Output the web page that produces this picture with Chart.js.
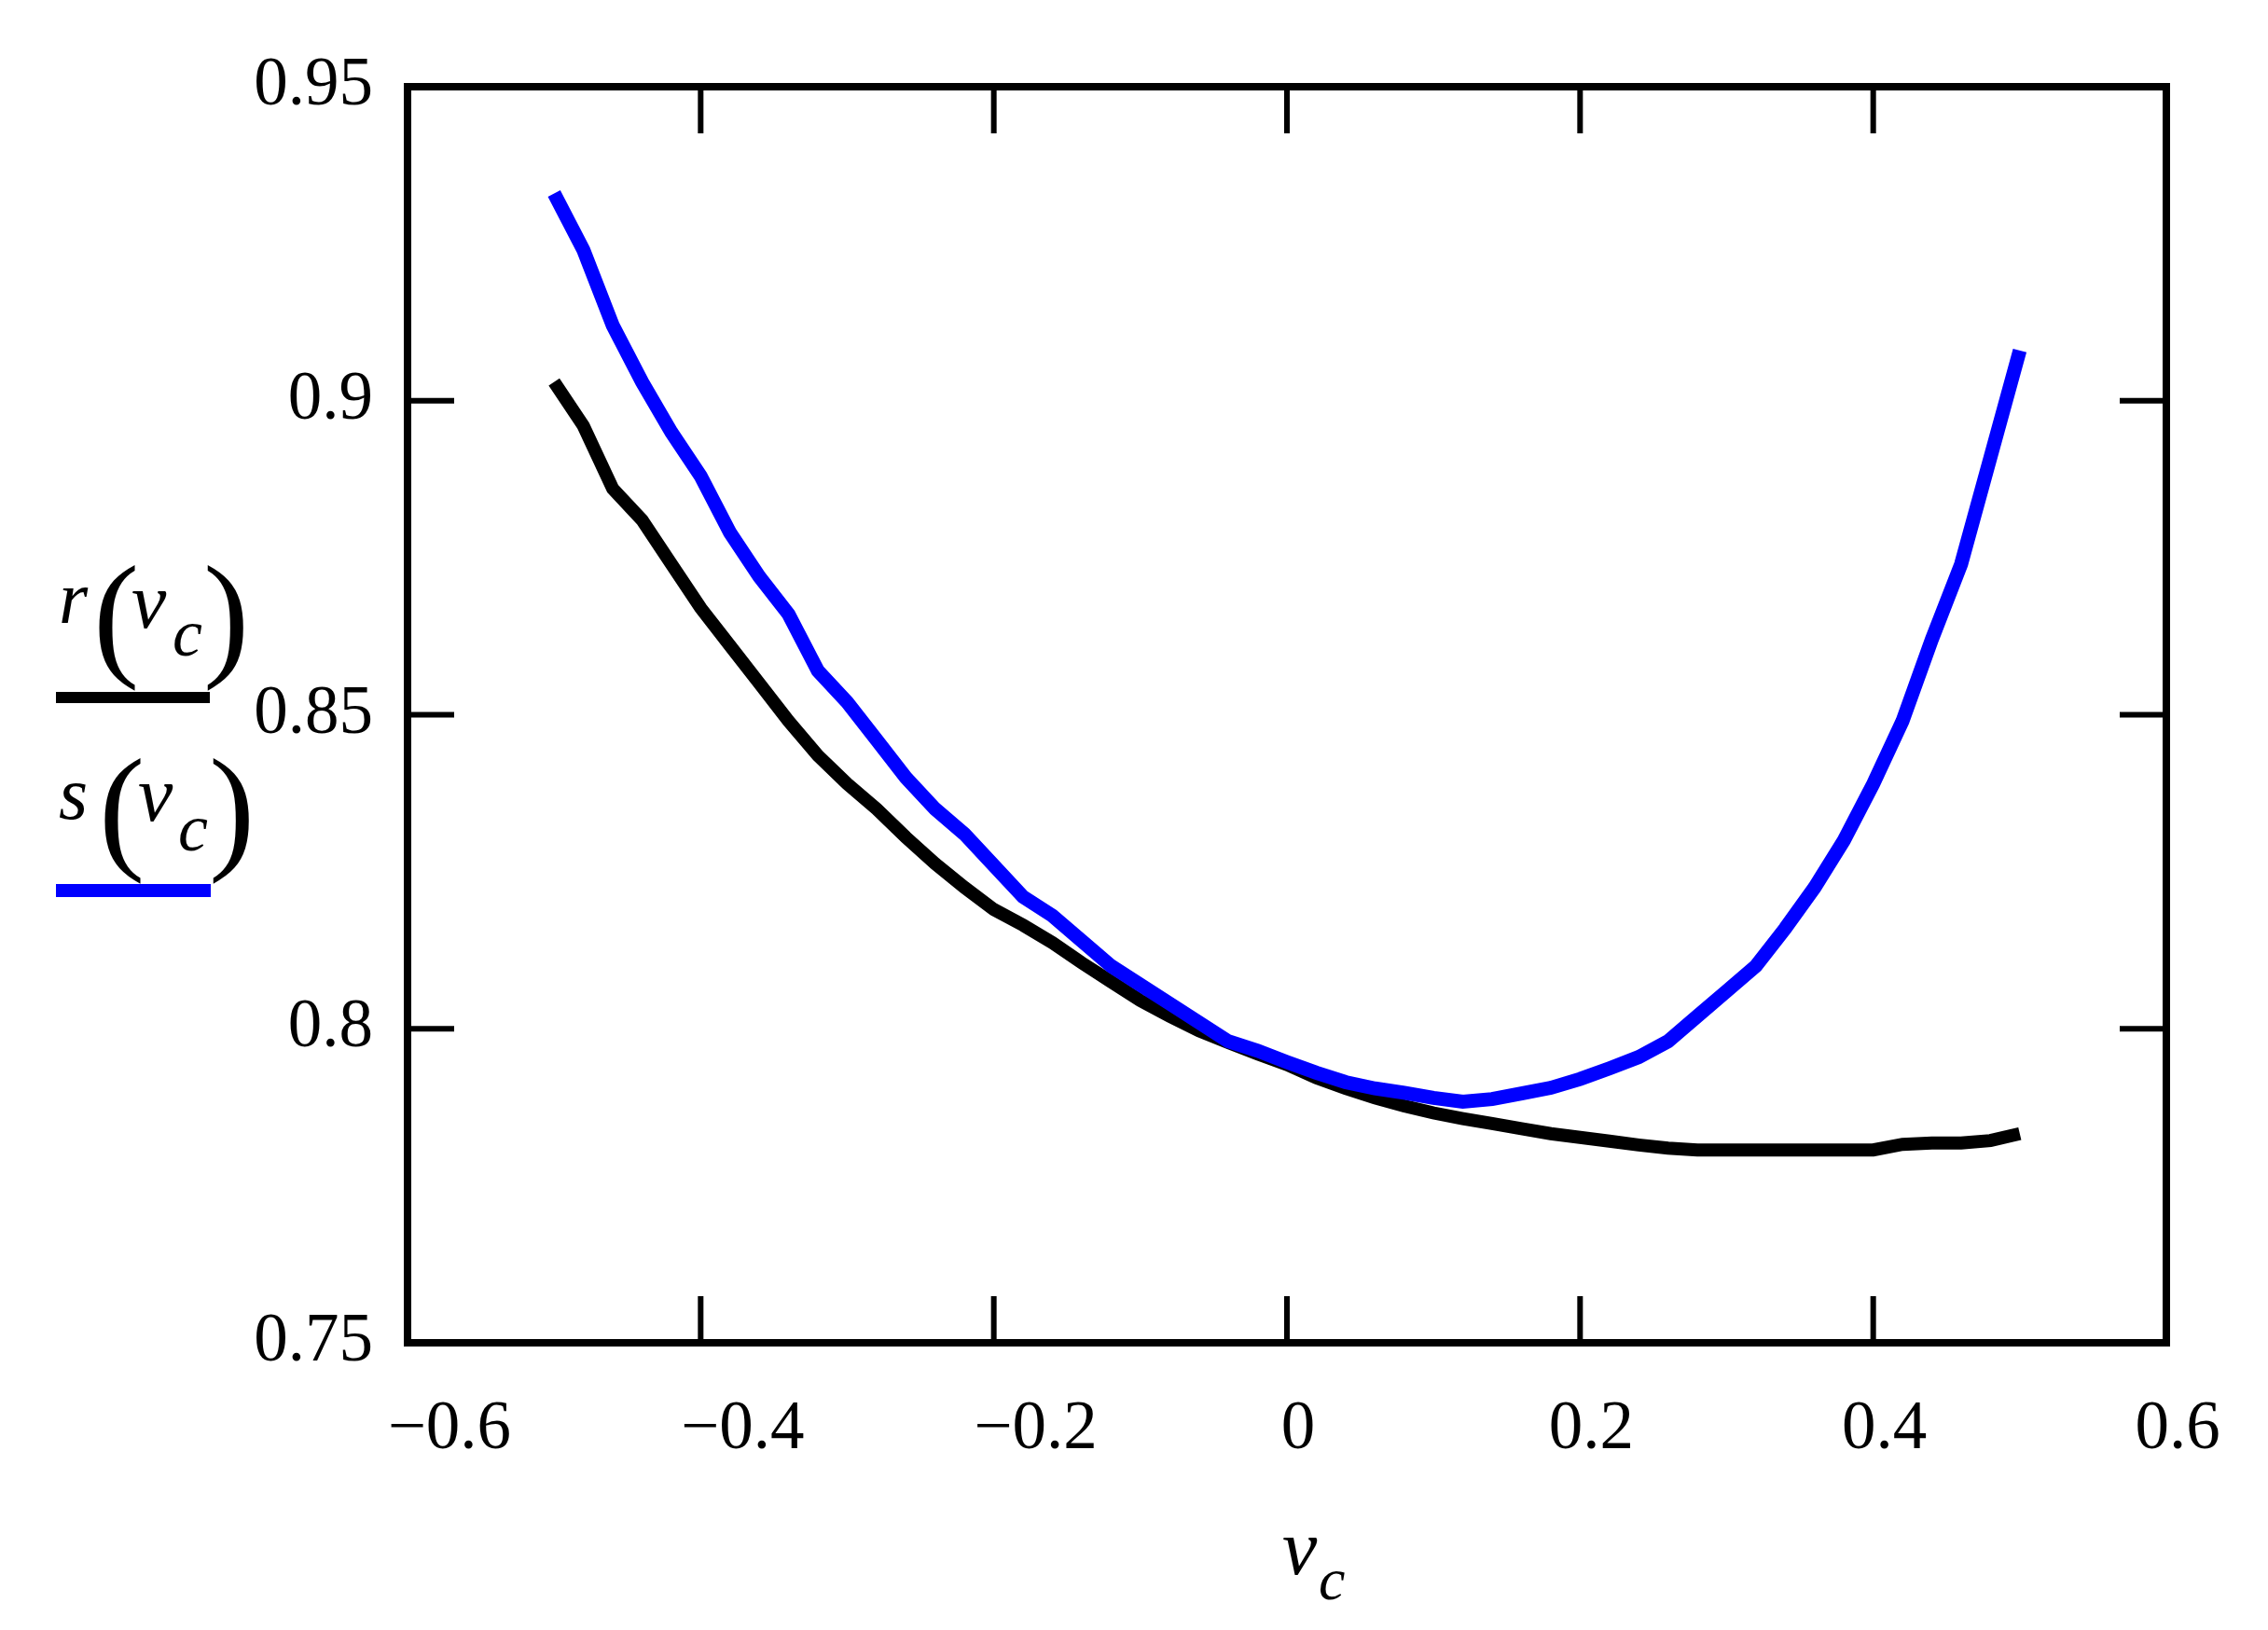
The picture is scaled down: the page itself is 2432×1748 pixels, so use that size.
<!DOCTYPE html>
<html>
<head>
<meta charset="utf-8">
<script src="https://cdn.jsdelivr.net/npm/chart.js@4.4.1/dist/chart.umd.min.js"></script>
<style>
  html, body { margin: 0; padding: 0; background: #ffffff; }
  #wrap { width: 2432px; height: 1748px; }
  canvas { display: block; }
</style>
</head>
<body>
<div id="wrap"><canvas id="c" width="2432" height="1748"></canvas></div>
<script>
// ---- data ----
const nuC = [-0.50,-0.48,-0.46,-0.44,-0.42,-0.40,-0.38,-0.36,-0.34,-0.32,-0.30,-0.28,-0.26,-0.24,-0.22,-0.20,-0.18,-0.16,-0.14,-0.12,-0.10,-0.08,-0.06,-0.04,-0.02,0.00,0.02,0.04,0.06,0.08,0.10,0.12,0.14,0.16,0.18,0.20,0.22,0.24,0.26,0.28,0.30,0.32,0.34,0.36,0.38,0.40,0.42,0.44,0.46,0.48,0.50];
const rValues = [0.903,0.896,0.886,0.881,0.874,0.867,0.861,0.855,0.849,0.8435,0.839,0.835,0.8305,0.8263,0.8225,0.819,0.8165,0.8137,0.8105,0.8075,0.8045,0.802,0.7997,0.7978,0.796,0.7943,0.7922,0.7905,0.789,0.7877,0.7866,0.7857,0.7849,0.7841,0.7833,0.7827,0.7821,0.7815,0.781,0.7807,0.7807,0.7807,0.7807,0.7807,0.7807,0.7807,0.7816,0.7818,0.7818,0.7822,0.7833];
const sValues = [0.933,0.924,0.912,0.903,0.895,0.888,0.879,0.872,0.866,0.857,0.852,0.846,0.840,0.835,0.831,0.826,0.821,0.818,0.814,0.810,0.807,0.804,0.801,0.798,0.7965,0.7947,0.793,0.7915,0.7905,0.7898,0.789,0.7884,0.7888,0.7897,0.7906,0.792,0.7937,0.7955,0.798,0.802,0.806,0.810,0.816,0.8225,0.830,0.839,0.849,0.862,0.874,0.891,0.908];
const xTickValues = [-0.6,-0.4,-0.2,0,0.2,0.4,0.6];
const xTickLabels = ['\u22120.6','\u22120.4','\u22120.2','0','0.2','0.4','0.6'];
const yTickValues = [0.75,0.80,0.85,0.90,0.95];
const yTickLabels = ['0.75','0.8','0.85','0.9','0.95'];

const SERIF = '"Liberation Serif", "Times New Roman", serif';

const framePlugin = {
  id: 'frameAndText',
  afterDraw(chart) {
    const ctx = chart.ctx;
    const a = chart.chartArea;
    const xs = chart.scales.x, ys = chart.scales.y;
    ctx.save();
    ctx.strokeStyle = '#000';
    // frame
    ctx.lineWidth = 8;
    ctx.strokeRect(a.left, a.top, a.right - a.left, a.bottom - a.top);
    // inward ticks on all four sides
    ctx.lineWidth = 6;
    const L = 50;
    ctx.beginPath();
    xTickValues.forEach(v => {
      const px = xs.getPixelForValue(v);
      ctx.moveTo(px, a.bottom); ctx.lineTo(px, a.bottom - L);
      ctx.moveTo(px, a.top); ctx.lineTo(px, a.top + L);
    });
    yTickValues.forEach(v => {
      const py = ys.getPixelForValue(v);
      ctx.moveTo(a.left, py); ctx.lineTo(a.left + L, py);
      ctx.moveTo(a.right, py); ctx.lineTo(a.right - L, py);
    });
    ctx.stroke();

    // text helpers
    ctx.fillStyle = '#000';
    ctx.textAlign = 'left';
    ctx.textBaseline = 'alphabetic';
    const it = (t, x, y, s) => { ctx.font = 'italic ' + s + 'px ' + SERIF; ctx.fillText(t, x, y); };
    const up = (t, x, y, s) => { ctx.font = s + 'px ' + SERIF; ctx.fillText(t, x, y); };

    // legend-like y-axis labels
    it('r', 63, 668, 80);
    up('(', 100, 709, 148);
    it('\u03BD', 141, 673, 84);
    it('c', 185, 703, 72);
    up(')', 218, 709, 148);
    ctx.fillStyle = '#000';
    ctx.fillRect(60, 742, 165, 12);

    it('s', 63, 878, 80);
    up('(', 106, 916, 148);
    it('\u03BD', 148, 880, 84);
    it('c', 191, 912, 72);
    up(')', 224, 916, 148);
    ctx.fillStyle = '#0000ff';
    ctx.fillRect(60, 948, 166, 14);

    // x-axis title
    ctx.fillStyle = '#000';
    it('\u03BD', 1375, 1688, 84);
    it('c', 1414, 1715, 64);
    ctx.restore();
  }
};

new Chart(document.getElementById('c'), {
  type: 'line',
  data: {
    datasets: [
      {
        label: 's(\u03BDc)',
        data: nuC.map((x, i) => ({ x: x, y: sValues[i] })),
        borderColor: '#0000ff',
        borderWidth: 15,
        pointRadius: 0,
        tension: 0,
        fill: false,
        order: 0
      },
      {
        label: 'r(\u03BDc)',
        data: nuC.map((x, i) => ({ x: x, y: rValues[i] })),
        borderColor: '#000000',
        borderWidth: 14,
        pointRadius: 0,
        tension: 0,
        fill: false,
        order: 1
      }
    ]
  },
  options: {
    responsive: false,
    animation: false,
    devicePixelRatio: 1,
    layout: { padding: { left: 0, right: 109, top: 93, bottom: 0 } },
    plugins: { legend: { display: false }, tooltip: { enabled: false }, title: { display: false } },
    scales: {
      x: {
        type: 'linear',
        min: -0.6, max: 0.6,
        afterFit: s => { s.height = 308; },
        afterBuildTicks: s => { s.ticks = xTickValues.map(v => ({ value: v })); },
        grid: { display: false, drawTicks: false },
        border: { display: false },
        ticks: {
          autoSkip: false,
          maxRotation: 0,
          padding: 50,
          labelOffset: 12,
          color: '#000',
          font: { family: SERIF, size: 73 },
          callback: (v, i) => (xTickValues[i] < 0 ? '\u2002\u2009\u2009' : '') + xTickLabels[i]
        }
      },
      y: {
        type: 'linear',
        min: 0.75, max: 0.95,
        afterFit: s => { s.width = 437; },
        afterBuildTicks: s => { s.ticks = yTickValues.map(v => ({ value: v })); },
        grid: { display: false, drawTicks: false },
        border: { display: false },
        ticks: {
          autoSkip: false,
          padding: 37,
          color: '#000',
          font: { family: SERIF, size: 73 },
          callback: (v, i) => yTickLabels[i]
        }
      }
    }
  },
  plugins: [framePlugin]
});
</script>
</body>
</html>
